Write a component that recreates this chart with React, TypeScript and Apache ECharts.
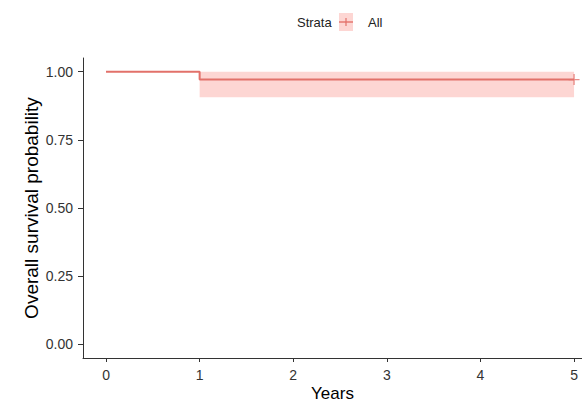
import React, { useEffect, useRef } from "react";
import * as echarts from "echarts";

const survTimes = [0, 1, 5];
const survValues = [1.0, 0.971, 0.971];
const bandTimes = [1, 5];
const bandLower = [0.906, 0.906];
const bandUpper = [1.0, 1.0];
const censorTimes = [5];
const censorValues = [0.971];
const xTicks = [0, 1, 2, 3, 4, 5];
const yTicks = [0, 0.25, 0.5, 0.75, 1.0];
const strataTitle = "Strata";
const strataNames = ["All"];

const LINE = "#E2716A";
const BAND = "rgba(248,118,109,0.3)";
const FONT = "Liberation Sans, Arial, sans-serif";

export default function App() {
  const ref = useRef<HTMLDivElement>(null);
  useEffect(() => {
    if (!ref.current) return;
    const chart = echarts.init(ref.current, null, { renderer: "svg" });
    const survData = survTimes.map((t, i) => [t, survValues[i]]);
    const censorData = censorTimes.map((t, i) => [t, censorValues[i]]);
    const bandArea = [
      [
        { coord: [bandTimes[0], bandUpper[0]] },
        { coord: [bandTimes[bandTimes.length - 1], bandLower[bandLower.length - 1]] },
      ],
    ];
    chart.setOption({
      animation: false,
      textStyle: { fontFamily: FONT },
      grid: { left: 83, top: 58, right: 0, bottom: 45, outerBoundsMode: "none", containLabel: false },
      graphic: [
        {
          type: "rect",
          shape: { x: 339, y: 13, width: 14, height: 18 },
          style: { fill: BAND },
        },
        {
          type: "line",
          shape: { x1: 339, y1: 22, x2: 353, y2: 22 },
          style: { stroke: LINE, lineWidth: 1.4 },
        },
        {
          type: "line",
          shape: { x1: 346, y1: 18, x2: 346, y2: 26 },
          style: { stroke: LINE, lineWidth: 1.2 },
        },
        {
          type: "text",
          x: 297,
          y: 22,
          style: {
            text: strataTitle,
            fontSize: 13,
            fill: "#222",
            fontFamily: FONT,
            verticalAlign: "middle",
          },
        },
        {
          type: "text",
          x: 368,
          y: 22,
          style: {
            text: strataNames[0],
            fontSize: 13,
            fill: "#222",
            fontFamily: FONT,
            verticalAlign: "middle",
          },
        },
      ],
      xAxis: {
        type: "value",
        min: -0.246,
        max: 5.085,
        name: "Years",
        nameLocation: "middle",
        nameGap: 27,
        nameMoveOverlap: false,
        nameTextStyle: { fontSize: 17, color: "#000", fontFamily: FONT, lineHeight: 17 },
        axisLine: { show: true, onZero: false, lineStyle: { color: "#333", width: 1 } },
        axisTick: { show: true, length: 4, lineStyle: { color: "#333" }, customValues: xTicks },
        axisLabel: {
          fontSize: 14,
          color: "#333",
          margin: 10,
          customValues: xTicks,
          formatter: (v: number) => String(v),
        },
        splitLine: { show: false },
      },
      yAxis: {
        type: "value",
        min: -0.05,
        max: 1.05,
        name: "Overall survival probability",
        nameLocation: "middle",
        nameGap: 42,
        nameMoveOverlap: false,
        nameTextStyle: { fontSize: 19, color: "#000", fontFamily: FONT },
        axisLine: { show: true, onZero: false, lineStyle: { color: "#333", width: 1 } },
        axisTick: { show: true, length: 5, lineStyle: { color: "#333" }, customValues: yTicks },
        axisLabel: {
          fontSize: 14,
          color: "#333",
          margin: 10,
          customValues: yTicks,
          formatter: (v: number) => v.toFixed(2),
        },
        splitLine: { show: false },
      },
      series: [
        {
          name: strataNames[0],
          type: "line",
          data: survData,
          step: "end",
          symbol: "none",
          color: LINE,
          lineStyle: { color: LINE, width: 2 },
          z: 3,
          markArea: {
            silent: true,
            itemStyle: { color: BAND },
            data: bandArea,
          },
        },
        {
          name: "censor",
          type: "scatter",
          data: censorData,
          symbol: "path://M0,4.4H10V5.6H0ZM4.4,0H5.6V10H4.4Z",
          symbolSize: 11,
          itemStyle: { color: LINE },
          z: 4,
        },
      ],
    });
    return () => chart.dispose();
  }, []);
  return <div ref={ref} style={{ width: 582, height: 403, position: "absolute", left: 0, top: 0 }} />;
}
